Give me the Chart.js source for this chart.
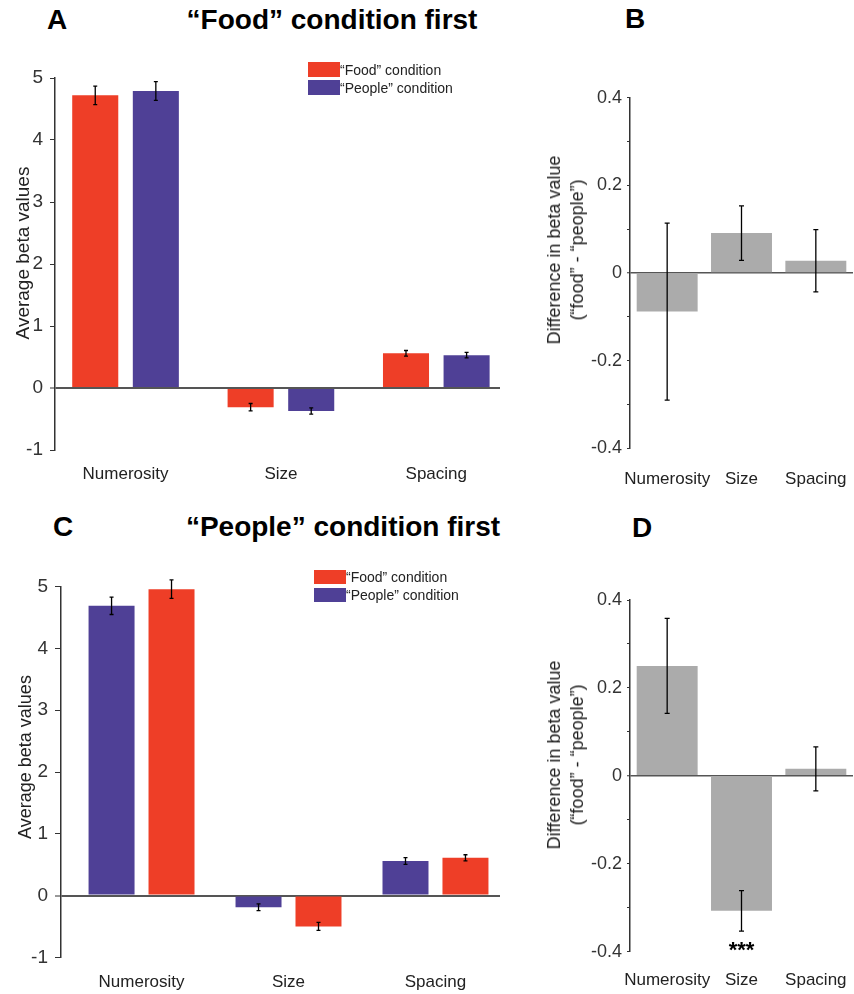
<!DOCTYPE html>
<html><head><meta charset="utf-8">
<script src="https://cdn.jsdelivr.net/npm/chart.js@4/dist/chart.umd.min.js"></script>
<style>
html,body{margin:0;padding:0;background:#fff;overflow:hidden}
body{width:854px;height:994px;position:relative;font-family:"Liberation Sans",Arial,Helvetica,sans-serif}
canvas{position:absolute}
.t{position:absolute;white-space:nowrap;color:#000}
.big{font-weight:bold;font-size:28px;line-height:28px}
.ytitle{position:absolute;white-space:nowrap;transform:translate(-50%,-50%) rotate(-90deg);color:#222;text-align:center}
.leg{position:absolute;font-size:14px;line-height:15px;color:#222;white-space:nowrap}
.sw{position:absolute;width:32px;height:15px}
</style></head>
<body>
<canvas id="cA" width="520" height="470" style="left:0;top:40px"></canvas>
<canvas id="cB" width="324" height="450" style="left:530px;top:50px"></canvas>
<canvas id="cC" width="520" height="444" style="left:0;top:550px"></canvas>
<canvas id="cD" width="324" height="434" style="left:530px;top:560px"></canvas>

<div class="t big" style="left:47px;top:6px">A</div>
<div class="t big" style="left:332px;top:6px;transform:translateX(-50%)">“Food” condition first</div>
<div class="t big" style="left:625px;top:5px">B</div>
<div class="t big" style="left:53px;top:513px">C</div>
<div class="t big" style="left:343px;top:513px;transform:translateX(-50%)">“People” condition first</div>
<div class="t big" style="left:632px;top:514px">D</div>

<div class="ytitle" style="left:23px;top:253px;font-size:19px">Average beta values</div>
<div class="ytitle" style="left:25px;top:757px;font-size:18px">Average beta values</div>
<div class="ytitle" style="left:566px;top:250px;font-size:18px;line-height:23px">Difference in beta value<br>(“food” - “people”)</div>
<div class="ytitle" style="left:566px;top:755px;font-size:18px;line-height:23px">Difference in beta value<br>(“food” - “people”)</div>

<div class="sw" style="left:308px;top:62px;background:#EE3E27"></div>
<div class="leg" style="left:340px;top:63px">“Food” condition</div>
<div class="sw" style="left:308px;top:80px;background:#4F4096"></div>
<div class="leg" style="left:340px;top:81px">“People” condition</div>

<div class="sw" style="left:314px;top:570px;height:14px;background:#EE3E27"></div>
<div class="leg" style="left:346px;top:570px">“Food” condition</div>
<div class="sw" style="left:314px;top:588px;height:14px;background:#4F4096"></div>
<div class="leg" style="left:346px;top:588px">“People” condition</div>

<script>
// ---------- data ----------
const categories = ['Numerosity', 'Size', 'Spacing'];
const seriesNames = ['“Food” condition', '“People” condition'];

// Panel A: "Food" condition first
const foodA   = [4.72, -0.31, 0.56];
const foodAErr   = [0.15, 0.06, 0.045];
const peopleA = [4.79, -0.37, 0.53];
const peopleAErr = [0.15, 0.05, 0.045];

// Panel B: difference food - people
const diffB    = [-0.088, 0.091, 0.028];
const diffBErr = [0.202, 0.062, 0.071];

// Panel C: "People" condition first
const peopleC = [4.69, -0.19, 0.56];
const peopleCErr = [0.14, 0.055, 0.055];
const foodC   = [4.96, -0.50, 0.61];
const foodCErr   = [0.15, 0.065, 0.05];

// Panel D: difference food - people
const diffD    = [0.25, -0.307, 0.016];
const diffDErr = [0.108, 0.046, 0.05];

const beta5Ticks = [-1, 0, 1, 2, 3, 4, 5];
const sigLabel = '***';

// ---------- styles ----------
const RED = '#EE3E27', PURPLE = '#4F4096', GREY = '#ABABAB';
Chart.defaults.font.family = '"Liberation Sans", Arial, Helvetica, sans-serif';
Chart.defaults.color = '#333';

const errorBars = {
  id: 'errorBars',
  afterDatasetsDraw(chart, args, opts) {
    const ctx = chart.ctx, y = chart.scales.y;
    chart.data.datasets.forEach((ds, di) => {
      if (!ds.errors) return;
      const meta = chart.getDatasetMeta(di);
      meta.data.forEach((bar, i) => {
        const raw = ds.data[i];
        const v = (typeof raw === 'object') ? raw.y : raw;
        const e = ds.errors[i];
        const y1 = y.getPixelForValue(v + e), y2 = y.getPixelForValue(v - e);
        const c = opts.cap;
        ctx.save();
        ctx.strokeStyle = '#000';
        ctx.lineWidth = opts.width;
        ctx.beginPath();
        ctx.moveTo(bar.x, y1); ctx.lineTo(bar.x, y2);
        ctx.moveTo(bar.x - c, y1); ctx.lineTo(bar.x + c, y1);
        ctx.moveTo(bar.x - c, y2); ctx.lineTo(bar.x + c, y2);
        ctx.stroke();
        ctx.restore();
      });
    });
  }
};

const sigMarks = {
  id: 'sigMarks',
  afterDraw(chart, args, opts) {
    if (!opts || !opts.labels) return;
    const ctx = chart.ctx;
    ctx.save();
    ctx.font = 'bold 22px "Liberation Sans", Arial, sans-serif';
    ctx.fillStyle = '#000';
    ctx.textAlign = 'center';
    ctx.textBaseline = 'alphabetic';
    opts.labels.forEach((lab, i) => {
      if (!lab) return;
      ctx.fillText(lab, chart.scales.x.getPixelForValue(i), opts.baseline);
    });
    ctx.restore();
  }
};

function zeroGrid(w) {
  return {
    color: c => (c.tick && Math.abs(c.tick.value) < 1e-9) ? '#555' : 'rgba(0,0,0,0)',
    lineWidth: c => (c.tick && Math.abs(c.tick.value) < 1e-9) ? w : 1,
    tickColor: '#333', tickWidth: 1
  };
}

// Panels A and C: grouped bars on a numeric index axis
function groupChart(id, s1, s2, opt) {
  const mk = (s) => ({
    label: s.label,
    data: s.values.map((v, i) => ({ x: i + 1, y: v })),
    errors: s.errors,
    backgroundColor: s.color,
    borderWidth: 0,
    categoryPercentage: opt.catPct,
    barPercentage: opt.barPct
  });
  return new Chart(document.getElementById(id), {
    type: 'bar',
    data: { datasets: [mk(s1), mk(s2)] },
    options: {
      responsive: false, animation: false,
      layout: { padding: { top: opt.top, right: opt.right, left: 0, bottom: 0 } },
      plugins: { legend: { display: false }, tooltip: { enabled: false },
                 errorBars: { cap: 2, width: 1.3 } },
      scales: {
        x: {
          type: 'linear', min: opt.xmin, max: opt.xmax, offset: false,
          afterBuildTicks: sc => { sc.ticks = categories.map((_, i) => ({ value: i + 1 })); },
          afterFit: sc => { sc.height = opt.xh; },
          ticks: { callback: (v, i) => categories[i], font: { size: 17 }, color: '#222', padding: 0, maxRotation: 0, autoSkip: false },
          grid: { display: true, offset: false, drawOnChartArea: false, drawTicks: true, tickLength: opt.lpad, color: 'rgba(0,0,0,0)', tickColor: 'rgba(0,0,0,0)' },
          border: { display: false }
        },
        y: {
          min: -1, max: 5, z: 1,
          afterBuildTicks: sc => { sc.ticks = beta5Ticks.map(v => ({ value: v })); },
          afterFit: sc => { sc.width = opt.yw; },
          ticks: { callback: v => String(v), font: { size: 19 }, color: '#333', padding: 7 },
          grid: Object.assign(zeroGrid(2), { tickLength: opt.tl }),
          border: { display: true, color: '#333', width: 1.5 }
        }
      }
    },
    plugins: [errorBars]
  });
}

function diffChart(id, values, errors, opt, sig) {
  return new Chart(document.getElementById(id), {
    type: 'bar',
    data: { labels: categories,
            datasets: [{ data: values, errors: errors, backgroundColor: GREY, borderWidth: 0,
                         categoryPercentage: 1, barPercentage: 0.82 }] },
    options: {
      responsive: false, animation: false,
      layout: { padding: { top: opt.top, right: 1, left: 0, bottom: 0 } },
      plugins: { legend: { display: false }, tooltip: { enabled: false },
                 errorBars: { cap: 2.5, width: 1.3 }, sigMarks: sig || {} },
      scales: {
        x: {
          afterFit: sc => { sc.height = opt.xh; },
          ticks: { font: { size: 17 }, color: '#222', padding: 0, maxRotation: 0, autoSkip: false },
          grid: { display: true, drawOnChartArea: false, drawTicks: true, tickLength: opt.lpad, color: 'rgba(0,0,0,0)', tickColor: 'rgba(0,0,0,0)' },
          border: { display: false }
        },
        y: {
          min: -0.4, max: 0.4, z: 1,
          ticks: { stepSize: 0.1, font: { size: 18 }, color: '#333', padding: 5,
                   callback: v => { const n = Math.round(v * 10); return (n % 2 === 0) ? String(n / 10) : ''; } },
          afterFit: sc => { sc.width = 100; },
          grid: Object.assign(zeroGrid(1.5), { tickLength: 3 }),
          border: { display: true, color: '#333', width: 1.5 }
        }
      }
    },
    plugins: [errorBars, sigMarks]
  });
}

groupChart('cA',
  { label: seriesNames[0], values: foodA, errors: foodAErr, color: RED },
  { label: seriesNames[1], values: peopleA, errors: peopleAErr, color: PURPLE },
  { top: 38, right: 20, xh: 60, yw: 55, tl: 5, lpad: 14, xmin: 0.546, xmax: 3.41, catPct: 0.78, barPct: 0.76 });

groupChart('cC',
  { label: seriesNames[1], values: peopleC, errors: peopleCErr, color: PURPLE },
  { label: seriesNames[0], values: foodC, errors: foodCErr, color: RED },
  { top: 36.7, right: 20, xh: 36.7, yw: 61, tl: 6, lpad: 15, xmin: 0.452, xmax: 3.439, catPct: 0.816, barPct: 0.767 });

diffChart('cB', diffB, diffBErr, { top: 47.7, xh: 51.7, lpad: 21 });
diffChart('cD', diffD, diffDErr, { top: 40, xh: 42.3, lpad: 18 },
  { labels: ['', sigLabel, ''], baseline: 957 - 560 });
</script>
</body></html>
